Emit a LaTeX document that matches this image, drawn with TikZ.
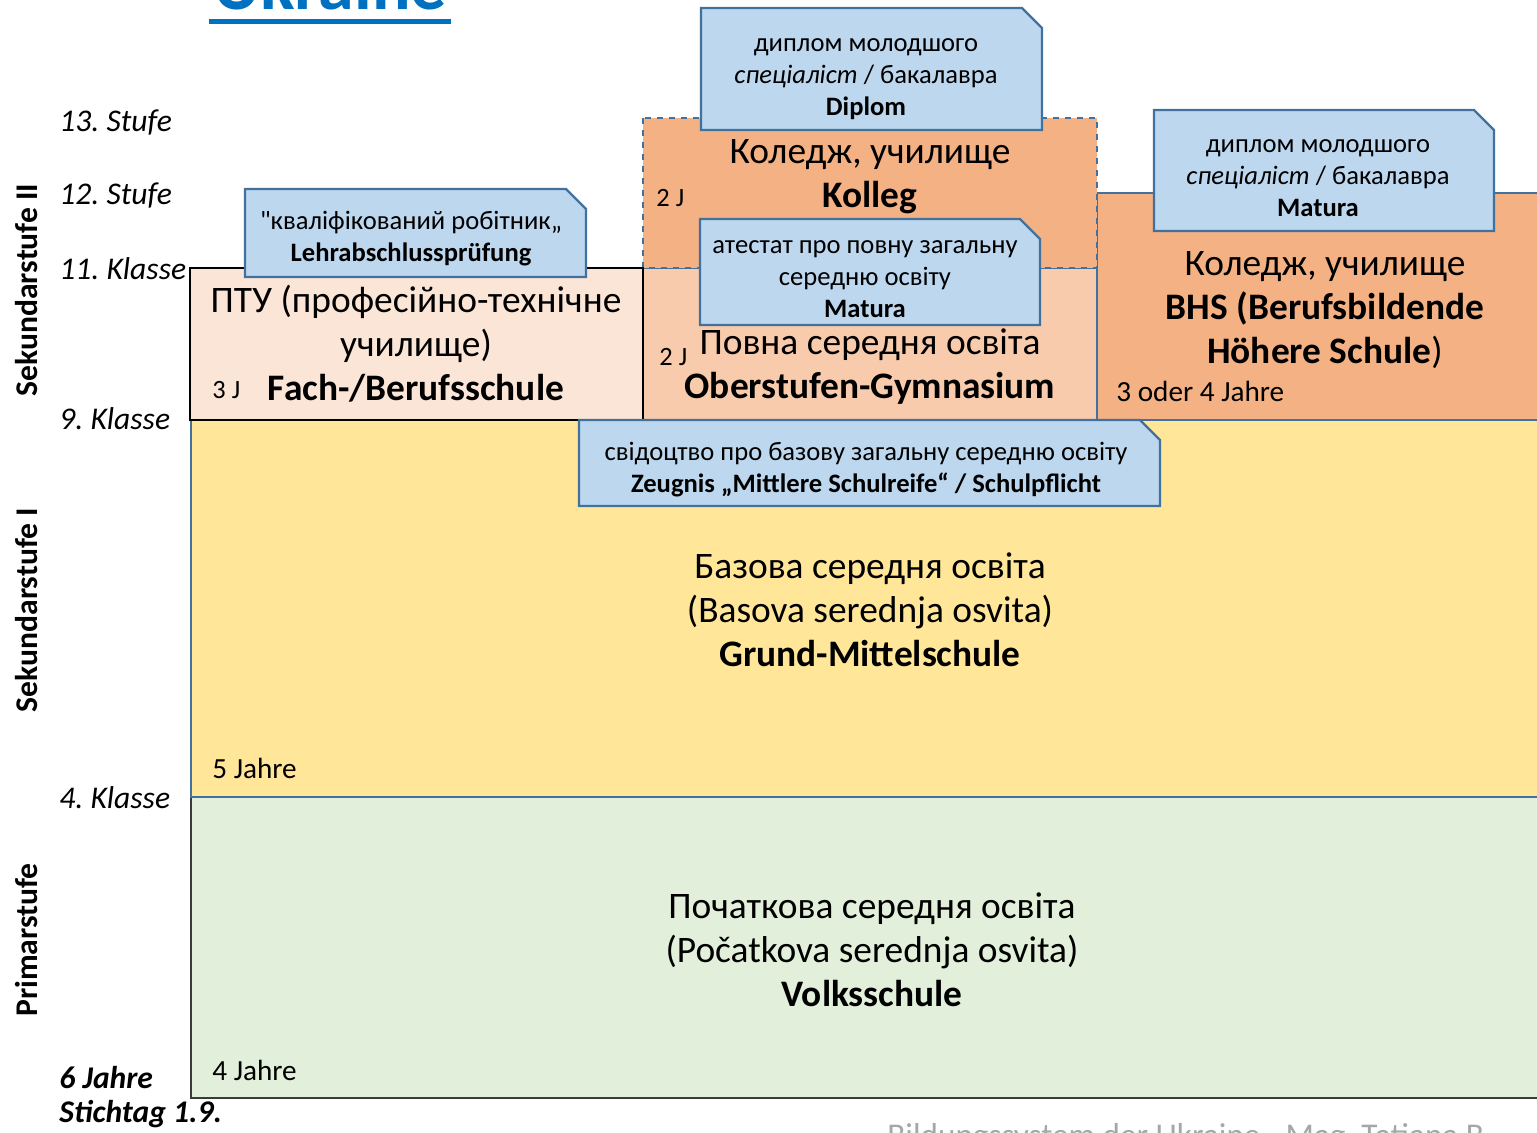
\documentclass[tikz,border=0pt]{standalone}
\usepackage{fontspec}
\setmainfont{Carlito}
\newfontfamily\straightquotes{Carlito}[Ligatures=TeXOff]
\usetikzlibrary{calc}
\frenchspacing

\definecolor{certfill}{HTML}{BDD7EE}
\definecolor{certline}{HTML}{41719C}
\definecolor{darkorange}{HTML}{F4B183}
\definecolor{midorange}{HTML}{F8CBAD}
\definecolor{lightorange}{HTML}{FBE5D6}
\definecolor{yellowfill}{HTML}{FFE699}
\definecolor{greenfill}{HTML}{E2EFDA}
\definecolor{titleblue}{HTML}{0070C0}
\definecolor{footgray}{HTML}{A6A6A6}
\definecolor{edgegray}{HTML}{3A3A3A}

% certificate tag with a cut-off upper right corner
\newcommand\certshape[4]{%
  \filldraw[cert] (#1,#2) -- ({#3-20},#2) -- (#3,{#2+20}) -- (#3,#4) -- (#1,#4) -- cycle;}

\begin{document}
\begin{tikzpicture}[x=0.5pt,y=-0.5pt,
  % multi-line texts are placed by the baseline of their last line
  txt/.style={inner sep=0pt, anchor=base, align=center},
  bigtxt/.style={txt, font=\fontsize{18.7}{22}\selectfont},
  certtxt/.style={txt, font=\fontsize{13.3}{16}\selectfont},
  stage/.style={inner sep=0pt, anchor=base west, font=\fontsize{15.8}{19}\selectfont\itshape},
  stagebold/.style={stage, font=\fontsize{15.8}{19}\selectfont\bfseries\itshape},
  levellabel/.style={inner sep=0pt, rotate=90, font=\fontsize{15.8}{19}\selectfont\bfseries},
  years/.style={inner sep=0pt, anchor=base west, font=\fontsize{14.6}{17}\selectfont},
  shortyears/.style={inner sep=0pt, anchor=base west, font=\fontsize{13.2}{15}\selectfont},
  cert/.style={fill=certfill, draw=certline, line width=1.2pt},
  schoolbox/.style={line width=0.6pt}
]
\useasboundingbox (0,0) rectangle (1537,1133);
\clip (0,0) rectangle (1537,1133);

% ---- school blocks ----
\filldraw[schoolbox, fill=greenfill, draw=edgegray, line width=1pt] (191,797) rectangle (1545,1098);
\filldraw[schoolbox, fill=yellowfill, draw=certline] (191,420) rectangle (1545,797);
\filldraw[schoolbox, fill=midorange, draw=certline] (643,268) rectangle (1097,420);
\filldraw[schoolbox, fill=darkorange, draw=certline] (1097,193) rectangle (1545,420);
\filldraw[schoolbox, fill=darkorange, draw=certline, dashed] (643,118) rectangle (1097,268);
\filldraw[schoolbox, fill=lightorange, draw=black] (190,268) rectangle (643,420);

% ---- block texts ----
\node[bigtxt] (kolleg) at (870,208) {Коледж, училище\\\textbf{Kolleg}};
\node[shortyears] (kollegyears) at (656,207) {2 J};
\node[bigtxt] (gym) at (870,399) {Повна середня освіта\\\textbf{Oberstufen-Gymnasium}};
\node[shortyears] (gymyears) at (659,366) {2 J};
\node[bigtxt] (ptu) at (416,401) {ПТУ (професійно-технічне\\училище)\\\textbf{Fach-/Berufsschule}};
\node[shortyears] (ptuyears) at (212,399) {3 J};
\node[bigtxt] (bhs) at (1325,364) {Коледж, училище\\\textbf{BHS (Berufsbildende}\\\textbf{Höhere Schule})};
\node[years] (bhsyears) at (1116,402) {3 oder 4 Jahre};
\node[bigtxt] (basic) at (870,667) {Базова середня освіта\\(Basova serednja osvita)\\\textbf{Grund-Mittelschule}};
\node[years] (basicyears) at (212,778) {5 Jahre};
\node[bigtxt] (primary) at (872,1006) {Початкова середня освіта\\(Počatkova serednja osvita)\\\textbf{Volksschule}};
\node[years] (primaryyears) at (212,1080) {4 Jahre};

% ---- certificates ----
\certshape{701}{8}{1042}{130}
\node[certtxt] (diplom) at (866,116) {диплом молодшого\\\textit{спеціаліст} / бакалавра\\\textbf{Diplom}};
\certshape{1154}{110}{1494}{231}
\node[certtxt] (bhsmatura) at (1318,217) {диплом молодшого\\\textit{спеціаліст} / бакалавра\\\textbf{Matura}};
\certshape{245}{189}{586}{277}
\node[certtxt] (lap) at (411,262) {{\straightquotes"}кваліфікований робітник„\\\textbf{Lehrabschlussprüfung}};
\certshape{700}{219}{1040}{325}
\node[certtxt] (matura) at (865,318) {атестат про повну загальну\\середню освіту\\\textbf{Matura}};
\certshape{579}{420}{1160}{506}
\node[certtxt] (zeugnis) at (866,493) {свідоцтво про базову загальну середню освіту\\\textbf{Zeugnis „Mittlere Schulreife“ / Schulpflicht}};

% ---- stage labels on the left ----
\node[stage] (s13) at (59,132) {13. Stufe};
\node[stage] (s12) at (59,205) {12. Stufe};
\node[stage] (k11) at (59,280) {11. Klasse};
\node[stage] (k9) at (59,430) {9. Klasse};
\node[stage] (k4) at (59,808) {4. Klasse};
\node[stagebold] (age) at (59,1088) {6 Jahre};
\node[stagebold] (cutoff) at (59,1122) {Stichtag 1.9.};

\node[levellabel] (sek2) at (27,290) {Sekundarstufe II};
\node[levellabel] (sek1) at (27,610) {Sekundarstufe I};
\node[levellabel] (prim) at (27,940) {Primarstufe};

% ---- heading and footer ----
\node[inner sep=0pt, anchor=base, font=\fontsize{36}{40}\selectfont\bfseries, text=titleblue] (title) at (330,10) {Ukraine};
\draw[titleblue, line width=2.5pt] ($(title.base west)+(-4,11.5)$) -- ($(title.base east)+(4,11.5)$);
\node[inner sep=0pt, anchor=base west, font=\fontsize{16.6}{20}\selectfont, text=footgray] (footer) at (887,1146) {Bildungssystem der Ukraine - Mag. Tatiana B};
\end{tikzpicture}
\end{document}
